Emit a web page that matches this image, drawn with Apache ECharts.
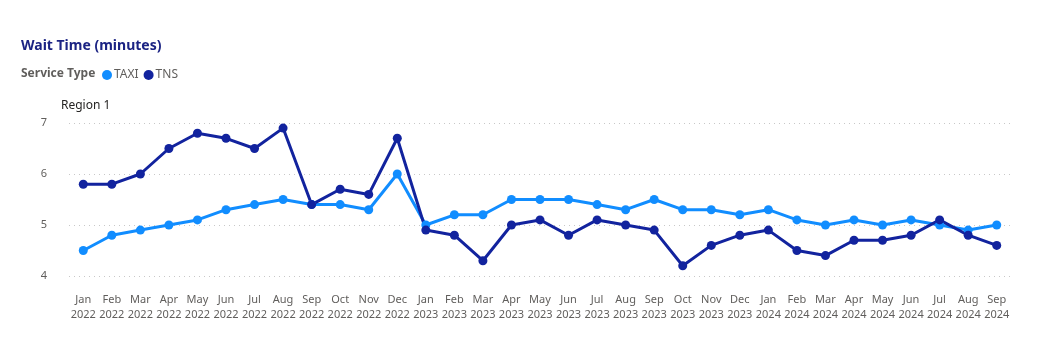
<!DOCTYPE html>
<html>
<head>
<meta charset="utf-8">
<script src="https://cdn.jsdelivr.net/npm/echarts@6/dist/echarts.min.js"></script>
<style>
  html, body { margin: 0; padding: 0; background: #fff; }
  #chart { width: 1047px; height: 351px; }
</style>
</head>
<body>
<div id="chart"></div>
<script>
const months = ['Jan', 'Feb', 'Mar', 'Apr', 'May', 'Jun', 'Jul', 'Aug', 'Sep', 'Oct', 'Nov', 'Dec'];
const years = ['2022', '2023', '2024'];
// Jan 2022 .. Sep 2024
const categories = [];
years.forEach(y => months.forEach(m => categories.push(m + '\n' + y)));
categories.length = 33;

const taxi = [4.5, 4.8, 4.9, 5.0, 5.1, 5.3, 5.4, 5.5, 5.4, 5.4, 5.3, 6.0,
              5.0, 5.2, 5.2, 5.5, 5.5, 5.5, 5.4, 5.3, 5.5, 5.3, 5.3, 5.2,
              5.3, 5.1, 5.0, 5.1, 5.0, 5.1, 5.0, 4.9, 5.0];
const tns = [5.8, 5.8, 6.0, 6.5, 6.8, 6.7, 6.5, 6.9, 5.4, 5.7, 5.6, 6.7,
             4.9, 4.8, 4.3, 5.0, 5.1, 4.8, 5.1, 5.0, 4.9, 4.2, 4.6, 4.8,
             4.9, 4.5, 4.4, 4.7, 4.7, 4.8, 5.1, 4.8, 4.6];

const font = '"Segoe UI", "Noto Sans", sans-serif';
const chart = echarts.init(document.getElementById('chart'));

chart.setOption({
  animation: false,
  textStyle: { fontFamily: font },
  title: [
    {
      text: 'Wait Time (minutes)',
      left: 16, top: 34,
      textStyle: { fontSize: 14, fontWeight: 'bold', color: '#1b2383', fontFamily: font }
    },
    {
      text: 'Service Type',
      left: 16, top: 63,
      textStyle: { fontSize: 12, fontWeight: 'bold', color: '#605E5C', fontFamily: font }
    },
    {
      text: 'Region 1',
      left: 56, top: 95,
      textStyle: { fontSize: 12, fontWeight: 'normal', color: '#252423', fontFamily: font }
    }
  ],
  legend: {
    left: 97, top: 64,
    icon: 'circle',
    itemWidth: 10, itemHeight: 10,
    itemGap: 5,
    textStyle: { fontSize: 12, color: '#605E5C', padding: [0, 0, 0, -3] },
    data: ['TAXI', 'TNS']
  },
  grid: { left: 69, right: 36, top: 123, bottom: 75 },
  xAxis: {
    type: 'category',
    data: categories,
    axisLine: { show: false },
    axisTick: { show: false },
    axisLabel: { color: '#605E5C', fontSize: 11, lineHeight: 15, margin: 16, interval: 0 }
  },
  yAxis: {
    type: 'value',
    min: 4, max: 7, interval: 1,
    axisLabel: { color: '#605E5C', fontSize: 11, margin: 22 },
    splitLine: { lineStyle: { type: [1, 4], color: '#c8c8c8' } }
  },
  series: [
    {
      name: 'TAXI', type: 'line', data: taxi,
      color: '#118DFF',
      symbol: 'circle', symbolSize: 9,
      lineStyle: { width: 3 }
    },
    {
      name: 'TNS', type: 'line', data: tns,
      color: '#12239E',
      symbol: 'circle', symbolSize: 9,
      lineStyle: { width: 3 }
    }
  ]
});
</script>
</body>
</html>
